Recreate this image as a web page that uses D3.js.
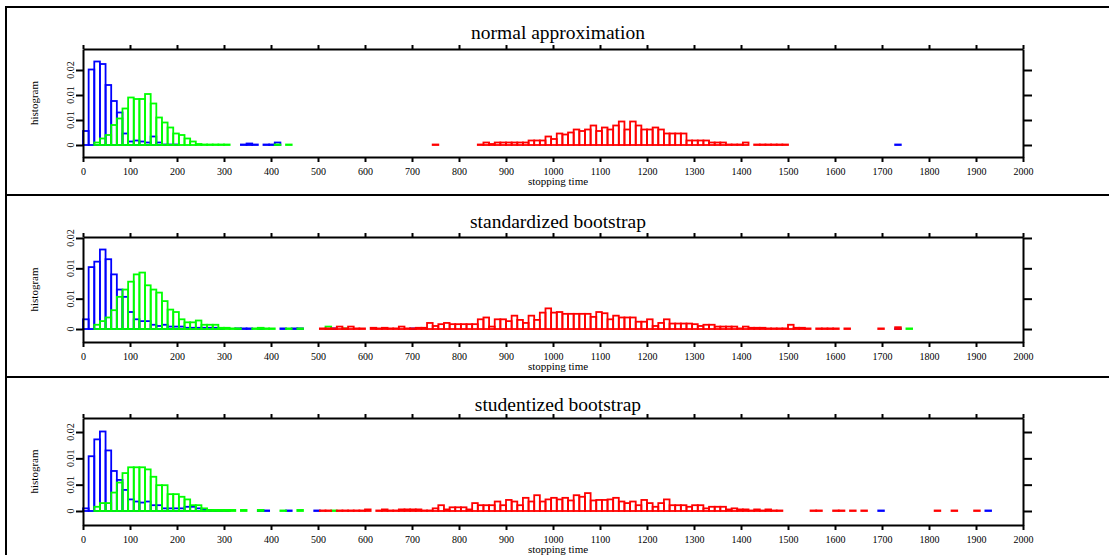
<!DOCTYPE html>
<html>
<head>
<meta charset="utf-8">
<script src="https://cdn.jsdelivr.net/npm/d3@7"></script>
<style>
  body { margin: 0; background: #fff; }
  svg text { font-family: "Liberation Serif", "Times New Roman", serif; fill: #000; }
</style>
</head>
<body>
<svg id="chart" width="1109" height="555"></svg>
<script>
// ---- data -----------------------------------------------------------------
// Histogram bins are 12 time units wide; bin k covers [12k, 12k + 12).
// Each series is a list of runs: [first bin index, [density per bin, ...]].
const binWidth = 12;

const xTicks = [0, 100, 200, 300, 400, 500, 600, 700, 800, 900, 1000,
                1100, 1200, 1300, 1400, 1500, 1600, 1700, 1800, 1900, 2000];
const yTicks = [0, 0.005, 0.01, 0.015];
const yTickLabels = ["0", "0.01", "0.01", "0.02"];

const panelTitles = ["normal approximation", "standardized bootstrap", "studentized bootstrap"];
const xLabel = "stopping time";
const yLabel = "histogram";

// normal approximation
const normalBlue = [
  [0, [0.0028, 0.0151, 0.0167, 0.0162, 0.012, 0.0088, 0.0065, 0.0023, 0.0007, 0.0009,
       0.0007, 0.0005, 0.0017, 0.0005, 0.0001, 0.0001, 0.0001]],
  [28, [0.0001, 0.0003, 0.0001]],
  [32, [0.0001, 0.0001, 0.0005]],
  [144, [0.0001]]
];
const normalGreen = [
  [2, [0.0005, 0.0013, 0.002, 0.004, 0.0053, 0.0073, 0.0095, 0.0092, 0.0092, 0.0102,
       0.0083, 0.0055, 0.0045, 0.0035, 0.0023, 0.002, 0.0013, 0.0007, 0.0002,
       0.0001, 0.0001, 0.0001, 0.0001, 0.0001]],
  [34, [0.0001]],
  [36, [0.0001]]
];
const normalRed = [
  [62, [0.0001]],
  [70, [0.0001, 0.0005, 0.0002, 0.0005, 0.0005, 0.0005, 0.0005, 0.0005, 0.0005, 0.0009,
        0.0009, 0.0009, 0.0017, 0.0012, 0.0023, 0.0021, 0.0025, 0.0031, 0.0028, 0.0031,
        0.0039, 0.0028, 0.0035, 0.0031, 0.0039, 0.0047, 0.0031, 0.0047, 0.0039, 0.0031,
        0.0031, 0.0035, 0.0031, 0.0023, 0.0023, 0.0023, 0.0023, 0.0009, 0.0009, 0.0009,
        0.0009, 0.0005, 0.0005, 0.0005, 0.0001, 0.0001, 0.0001, 0.0005]],
  [119, [0.0001, 0.0001, 0.0001, 0.0001, 0.0001, 0.0001]]
];

// standardized bootstrap
const standardizedBlue = [
  [0, [0.0016, 0.0102, 0.0111, 0.0131, 0.0115, 0.009, 0.0065, 0.0053, 0.0028, 0.0016,
       0.0013, 0.0013, 0.0007, 0.0005, 0.0007, 0.0004, 0.0004, 0.0004, 0.0002, 0.0002,
       0.0002, 0.0002, 0.0002, 0.0002, 0.0001]],
  [27, [0.0001, 0.0001, 0.0001]],
  [31, [0.0001]],
  [35, [0.0001]],
  [37, [0.0001, 0.0001]],
  [44, [0.0001]],
  [58, [0.0001]],
  [144, [0.0001]]
];
const standardizedGreen = [
  [2, [0.0007, 0.0013, 0.0019, 0.0031, 0.0053, 0.0065, 0.0078, 0.009, 0.0093, 0.0072,
       0.0065, 0.006, 0.0046, 0.0032, 0.0028, 0.0016, 0.0011, 0.0011, 0.0014, 0.0007,
       0.0007, 0.0007, 0.0002, 0.0002, 0.0001, 0.0001]],
  [30, [0.0001, 0.0002, 0.0001, 0.0001]],
  [36, [0.0001]],
  [38, [0.0001]],
  [43, [0.0004]],
  [46, [0.0001]],
  [146, [0.0001]]
];
const standardizedRed = [
  [42, [0.0001, 0.0001, 0.0001, 0.0004, 0.0001, 0.0004, 0.0001, 0.0001]],
  [51, [0.0002, 0.0001, 0.0002, 0.0001, 0.0001, 0.0004, 0.0001, 0.0001, 0.0002, 0.0002,
        0.001, 0.0005, 0.0008, 0.001, 0.0008, 0.0008, 0.0008, 0.0008, 0.0008, 0.0016,
        0.0019, 0.0004, 0.0016, 0.0016, 0.0013, 0.0022, 0.0015, 0.001, 0.0022, 0.0015,
        0.0027, 0.0034, 0.0027, 0.0028, 0.0025, 0.0025, 0.0025, 0.0025, 0.0025, 0.002,
        0.0028, 0.0026, 0.0016, 0.0022, 0.0019, 0.0019, 0.0019, 0.0012, 0.0012, 0.0016,
        0.0005, 0.001, 0.0016, 0.0009, 0.0009, 0.0009, 0.0009, 0.0008, 0.0005, 0.0007,
        0.0007, 0.0004, 0.0004, 0.0004, 0.0004, 0.0001, 0.0004, 0.0002, 0.0002, 0.0002,
        0.0001, 0.0001, 0.0001, 0.0001]],
  [125, [0.0007, 0.0002, 0.0002, 0.0001]],
  [130, [0.0001, 0.0001, 0.0001, 0.0001]],
  [135, [0.0001]],
  [141, [0.0001]],
  [144, [0.0003]]
];

// studentized bootstrap
const studentizedBlue = [
  [0, [0.0005, 0.0104, 0.0136, 0.0151, 0.0115, 0.0076, 0.0059, 0.004, 0.0022, 0.0018,
       0.0016, 0.0018, 0.0011, 0.0011, 0.0005, 0.0005, 0.0005, 0.0005, 0.0008, 0.0008,
       0.0005, 0.0002, 0.0002, 0.0001, 0.0001, 0.0001]],
  [31, [0.0001, 0.0001]],
  [36, [0.0001]],
  [41, [0.0001]],
  [141, [0.0001]],
  [160, [0.0001]]
];
const studentizedGreen = [
  [2, [0.0008, 0.0015, 0.0015, 0.0035, 0.0054, 0.0072, 0.0083, 0.0083, 0.0083, 0.0079,
       0.0065, 0.0049, 0.0049, 0.0032, 0.0032, 0.0027, 0.0022, 0.0011, 0.0011, 0.0005,
       0.0002, 0.0002, 0.0002, 0.0002, 0.0002]],
  [28, [0.0002]],
  [31, [0.0002]],
  [35, [0.0001]],
  [38, [0.0002]],
  [44, [0.0001]]
];
const studentizedRed = [
  [42, [0.0001, 0.0001]],
  [45, [0.0001, 0.0001, 0.0001, 0.0001, 0.0001, 0.0003]],
  [52, [0.0001, 0.0003, 0.0001, 0.0001, 0.0003, 0.0003, 0.0003, 0.0003, 0.0001, 0.0001,
        0.0005, 0.0011, 0.0003, 0.0007, 0.0007, 0.0007, 0.0003, 0.0015, 0.0011, 0.0011,
        0.0011, 0.0018, 0.0011, 0.0021, 0.0018, 0.0011, 0.0025, 0.0018, 0.003, 0.0018,
        0.0022, 0.0025, 0.0022, 0.0025, 0.002, 0.003, 0.0027, 0.0034, 0.002, 0.0021,
        0.0021, 0.0022, 0.0025, 0.0018, 0.0015, 0.0018, 0.0011, 0.0021, 0.0015, 0.0008,
        0.0015, 0.0022, 0.0011, 0.0011, 0.0011, 0.0008, 0.0011, 0.0011, 0.0005, 0.0008,
        0.0008, 0.0008, 0.0003, 0.0005, 0.0003, 0.0003, 0.0001, 0.0003, 0.0001, 0.0003,
        0.0001, 0.0001]],
  [129, [0.0001, 0.0001]],
  [133, [0.0001, 0.0001]],
  [136, [0.0001]],
  [138, [0.0001]],
  [151, [0.0001]],
  [154, [0.0001]],
  [158, [0.0001]]
];

const seriesColors = ["#0000ff", "#00ff00", "#ff0000"];

const panels = [
  { title: panelTitles[0], series: [normalBlue, normalGreen, normalRed], yDomain: [-0.0024, 0.0192] },
  { title: panelTitles[1], series: [standardizedBlue, standardizedGreen, standardizedRed], yDomain: [-0.00214, 0.01516] },
  { title: panelTitles[2], series: [studentizedBlue, studentizedGreen, studentizedRed], yDomain: [-0.00266, 0.01766] }
];

// ---- layout ---------------------------------------------------------------
const W = 1109, H = 555;
const frameLeft = 6;
const plotLeft = 83, plotRight = 1023;
const centerX = 558;
const panelLayout = [
  { frameTop: 7,   titleY: 39,  boxTop: 49,  boxBottom: 157 },
  { frameTop: 195, titleY: 228, boxTop: 237, boxBottom: 342 },
  { frameTop: 377, titleY: 411, boxTop: 418, boxBottom: 525 }
];

const svg = d3.select("#chart");
const x = d3.scaleLinear().domain([0, 2000]).range([plotLeft, plotRight]);

// outer frame lines
const frame = svg.append("g").attr("stroke", "#000").attr("stroke-width", 2);
frame.append("line").attr("x1", frameLeft).attr("x2", frameLeft).attr("y1", panelLayout[0].frameTop - 1).attr("y2", H);
panelLayout.forEach(L => {
  frame.append("line").attr("x1", frameLeft - 1).attr("x2", W).attr("y1", L.frameTop).attr("y2", L.frameTop);
});

panels.forEach((p, pi) => {
  const L = panelLayout[pi];
  const y = d3.scaleLinear().domain(p.yDomain).range([L.boxBottom, L.boxTop]);
  const g = svg.append("g");

  // histogram bars (outlined, unfilled)
  p.series.forEach((runs, si) => {
    const bins = [];
    runs.forEach(([start, vals]) => vals.forEach((v, i) => {
      if (v != null) bins.push({ x0: (start + i) * binWidth, v });
    }));
    g.append("g")
      .selectAll("rect")
      .data(bins)
      .join("rect")
      .attr("x", d => x(d.x0))
      .attr("width", d => x(d.x0 + binWidth) - x(d.x0))
      .attr("y", d => y(d.v))
      .attr("height", d => y(0) - y(d.v))
      .attr("fill", "none")
      .attr("stroke", seriesColors[si])
      .attr("stroke-width", 1.8);
  });

  const styleAxis = sel => {
    sel.select(".domain").attr("stroke", "#000").attr("stroke-width", 2);
    sel.selectAll(".tick line").attr("stroke", "#000").attr("stroke-width", 2);
    sel.selectAll("text").attr("font-family", "Liberation Serif, Times New Roman, serif").attr("font-size", 10).attr("fill", "#000");
  };

  // bottom axis with labels
  g.append("g")
    .attr("transform", `translate(0,${L.boxBottom})`)
    .call(d3.axisBottom(x).tickValues(xTicks).tickSize(5).tickSizeOuter(0).tickPadding(6).tickFormat(d3.format("d")))
    .call(styleAxis);
  // top axis, ticks only
  g.append("g")
    .attr("transform", `translate(0,${L.boxTop})`)
    .call(d3.axisTop(x).tickValues(xTicks).tickSize(4).tickSizeOuter(0).tickFormat(""))
    .call(styleAxis);
  // left axis, labels drawn rotated below
  g.append("g")
    .attr("transform", `translate(${plotLeft},0)`)
    .call(d3.axisLeft(y).tickValues(yTicks).tickSize(7).tickSizeOuter(0).tickFormat(""))
    .call(styleAxis);
  // right axis, ticks only
  g.append("g")
    .attr("transform", `translate(${plotRight},0)`)
    .call(d3.axisRight(y).tickValues(yTicks).tickSize(9).tickSizeOuter(0).tickFormat(""))
    .call(styleAxis);

  // rotated y tick labels
  g.append("g").selectAll("text")
    .data(yTicks)
    .join("text")
    .attr("transform", d => `translate(74,${y(d)}) rotate(-90)`)
    .attr("text-anchor", "middle")
    .attr("font-size", 10)
    .text((d, i) => yTickLabels[i]);

  // title
  g.append("text")
    .attr("x", centerX)
    .attr("y", L.titleY)
    .attr("text-anchor", "middle")
    .attr("font-size", 19.5)
    .text(p.title);

  // axis titles
  g.append("text")
    .attr("x", centerX)
    .attr("y", L.boxBottom + 28)
    .attr("text-anchor", "middle")
    .attr("font-size", 11)
    .text(xLabel);
  g.append("text")
    .attr("transform", `translate(38,${(L.boxTop + L.boxBottom) / 2}) rotate(-90)`)
    .attr("text-anchor", "middle")
    .attr("font-size", 11)
    .text(yLabel);
});
</script>
</body>
</html>
